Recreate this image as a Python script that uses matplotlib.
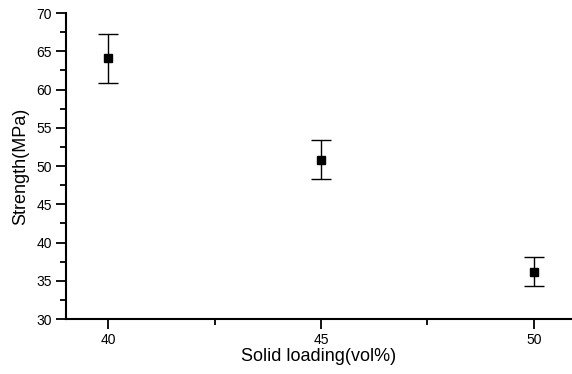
import matplotlib
matplotlib.use('Agg')
import matplotlib.pyplot as plt
from matplotlib.ticker import MultipleLocator

plt.rcParams['font.family'] = ['Liberation Sans', 'DejaVu Sans']

solid_loading = [40, 45, 50]
strength = [64.1, 50.8, 36.2]
strength_err = [3.2, 2.55, 1.85]

fig = plt.figure(figsize=(5.72, 3.74), dpi=100)
ax = fig.add_axes([0.115, 0.147, 0.885, 0.818])

ax.errorbar(solid_loading, strength, yerr=strength_err, fmt='s', color='black',
            markersize=6, ecolor='black', elinewidth=1.0, capsize=7, capthick=1.0)

ax.set_xlim(39.0, 50.9)
ax.set_ylim(30, 70)
ax.xaxis.set_major_locator(MultipleLocator(5))
ax.xaxis.set_minor_locator(MultipleLocator(2.5))
ax.yaxis.set_major_locator(MultipleLocator(5))
ax.yaxis.set_minor_locator(MultipleLocator(2.5))

for s in ['top', 'right']:
    ax.spines[s].set_visible(False)
for s in ['left', 'bottom']:
    ax.spines[s].set_linewidth(1.5)

ax.tick_params(which='major', direction='out', length=7, width=1.3, labelsize=10, pad=3)
ax.tick_params(which='minor', direction='out', length=4, width=1.3)

ax.set_xlabel('Solid loading(vol%)', fontsize=13, labelpad=1)
ax.set_ylabel('Strength(MPa)', fontsize=13, labelpad=5)

fig.savefig('out.png', dpi=100)
